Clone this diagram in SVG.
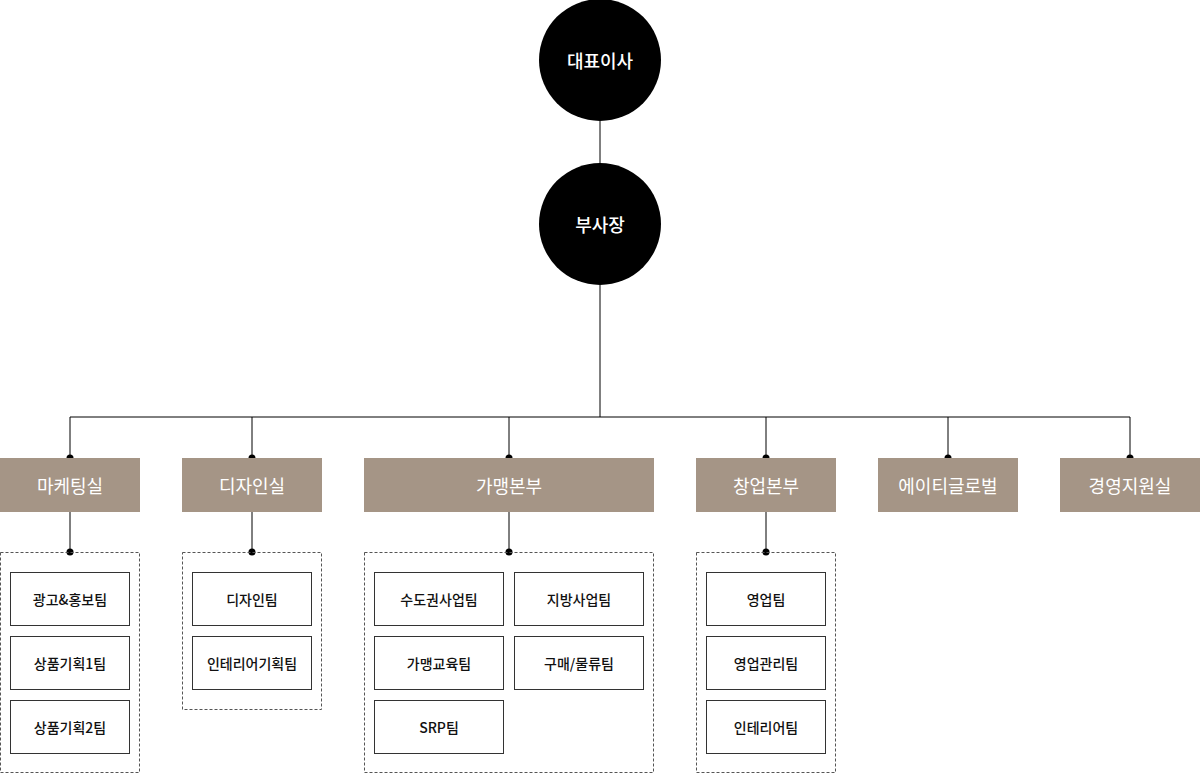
<svg xmlns="http://www.w3.org/2000/svg" width="1200" height="774" viewBox="0 0 1200 774">
<style>
text{font-family:"Noto Sans CJK KR","Noto Sans",sans-serif;text-anchor:middle;dominant-baseline:central}
.c{fill:#000}.ct{fill:#fff;font-size:18px;font-weight:500}
.d{fill:#a59586}.dt{fill:#fff;font-size:18px}
.g{fill:none;stroke:#555;stroke-dasharray:3 2}
.t{fill:#fff;stroke:#333}.tt{fill:#111;font-size:14px;font-weight:500}
.l{stroke:#000;stroke-width:1;fill:none}
</style>
<rect width="1200" height="774" fill="#fff"/>
<g id="connectors">
<path class="l" d="M600 121V163M600 285V417M70 417H1130M70 417V458M252 417V458M509 417V458M766 417V458M948 417V458M1130 417V458M70 512V552M252 512V552M509 512V552M766 512V552"/>
<g fill="#000"><circle cx="70" cy="458" r="3.5"/><circle cx="252" cy="458" r="3.5"/><circle cx="509" cy="458" r="3.5"/><circle cx="766" cy="458" r="3.5"/><circle cx="948" cy="458" r="3.5"/><circle cx="1130" cy="458" r="3.5"/><circle cx="70" cy="552" r="3.5"/><circle cx="252" cy="552" r="3.5"/><circle cx="509" cy="552" r="3.5"/><circle cx="766" cy="552" r="3.5"/></g>
</g>
<g id="ceo"><circle class="c" cx="600" cy="60" r="61"/><text class="ct" x="600" y="60">대표이사</text></g>
<g id="vp"><circle class="c" cx="600" cy="224" r="61"/><text class="ct" x="600" y="224">부사장</text></g>
<g id="marketing"><rect class="d" x="0" y="458" width="140" height="54"/><text class="dt" x="70" y="485">마케팅실</text></g>
<g id="design"><rect class="d" x="182" y="458" width="140" height="54"/><text class="dt" x="252" y="485">디자인실</text></g>
<g id="franchise"><rect class="d" x="364" y="458" width="290" height="54"/><text class="dt" x="509" y="485">가맹본부</text></g>
<g id="startup"><rect class="d" x="696" y="458" width="140" height="54"/><text class="dt" x="766" y="485">창업본부</text></g>
<g id="global"><rect class="d" x="878" y="458" width="140" height="54"/><text class="dt" x="948" y="485">에이티글로벌</text></g>
<g id="support"><rect class="d" x="1060" y="458" width="140" height="54"/><text class="dt" x="1130" y="485">경영지원실</text></g>
<g id="marketing-teams"><rect class="g" x="0.5" y="552.5" width="139" height="220"/>
<rect class="t" x="10.5" y="572.5" width="119" height="53"/><text class="tt" x="70" y="599">광고&amp;홍보팀</text>
<rect class="t" x="10.5" y="636.5" width="119" height="53"/><text class="tt" x="70" y="663">상품기획1팀</text>
<rect class="t" x="10.5" y="700.5" width="119" height="53"/><text class="tt" x="70" y="727">상품기획2팀</text></g>
<g id="design-teams"><rect class="g" x="182.5" y="552.5" width="139" height="157"/>
<rect class="t" x="192.5" y="572.5" width="119" height="53"/><text class="tt" x="252" y="599">디자인팀</text>
<rect class="t" x="192.5" y="636.5" width="119" height="53"/><text class="tt" x="252" y="663">인테리어기획팀</text></g>
<g id="franchise-teams"><rect class="g" x="364.5" y="552.5" width="289" height="220"/>
<rect class="t" x="374.5" y="572.5" width="129" height="53"/><text class="tt" x="439" y="599">수도권사업팀</text>
<rect class="t" x="514.5" y="572.5" width="129" height="53"/><text class="tt" x="579" y="599">지방사업팀</text>
<rect class="t" x="374.5" y="636.5" width="129" height="53"/><text class="tt" x="439" y="663">가맹교육팀</text>
<rect class="t" x="514.5" y="636.5" width="129" height="53"/><text class="tt" x="579" y="663">구매/물류팀</text>
<rect class="t" x="374.5" y="700.5" width="129" height="53"/><text class="tt" x="439" y="727">SRP팀</text></g>
<g id="startup-teams"><rect class="g" x="696.5" y="552.5" width="139" height="220"/>
<rect class="t" x="706.5" y="572.5" width="119" height="53"/><text class="tt" x="766" y="599">영업팀</text>
<rect class="t" x="706.5" y="636.5" width="119" height="53"/><text class="tt" x="766" y="663">영업관리팀</text>
<rect class="t" x="706.5" y="700.5" width="119" height="53"/><text class="tt" x="766" y="727">인테리어팀</text></g>
</svg>
